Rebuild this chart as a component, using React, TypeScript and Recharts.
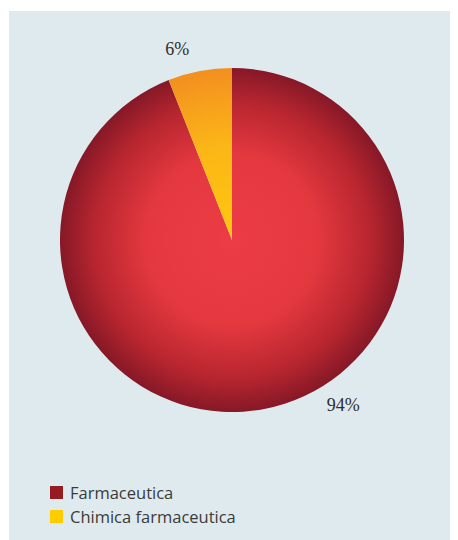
import { PieChart, Pie, Cell, Legend } from 'recharts';

const categories = ['Farmaceutica', 'Chimica farmaceutica'];
const shares = [94, 6];
const valueLabels = ['94%', '6%'];

const legendColors = ['#951c22', '#ffcc00'];
const sliceFills = ['url(#gradFarma)', 'url(#gradChimica)'];
// where each percentage sits around the pie (degrees, recharts convention)
const labelAngles = [-56, 106];

const data = categories.map((name, i) => ({ name, value: shares[i], label: valueLabels[i] }));

const CX = 223;
const CY = 229;
const R = 172;

const RADIAN = Math.PI / 180;

function renderLabel(props: any) {
  const { cx, cy, outerRadius, index } = props;
  const a = labelAngles[index];
  const r = outerRadius + 27;
  const x = cx + r * Math.cos(-a * RADIAN);
  const y = cy + r * Math.sin(-a * RADIAN);
  return (
    <text
      x={x}
      y={y}
      textAnchor="middle"
      dominantBaseline="central"
      fill="#2e2e2e"
      fontFamily="'Liberation Serif', serif"
      fontSize={18}
    >
      {data[index].label}
    </text>
  );
}

function renderLegend() {
  return (
    <div style={{ fontFamily: "'Open Sans', sans-serif", fontSize: 16.5, color: '#3a3a3a' }}>
      {categories.map((c, i) => (
        <div key={c} style={{ display: 'flex', alignItems: 'center', height: 24 }}>
          <span
            style={{
              display: 'inline-block',
              width: 13,
              height: 13,
              background: legendColors[i],
              marginRight: 7,
            }}
          />
          <span>{c}</span>
        </div>
      ))}
    </div>
  );
}

export default function App() {
  return (
    <div style={{ marginLeft: 1, marginTop: 3, width: 449, height: 529, background: '#dfeaee' }}>
      <PieChart width={449} height={529} margin={{ top: 0, right: 0, bottom: 0, left: 0 }}>
        <defs>
          <radialGradient id="gradFarma" gradientUnits="userSpaceOnUse" cx={CX} cy={CY} r={R}>
            <stop offset="0%" stopColor="#ec3c45" />
            <stop offset="50%" stopColor="#e4383f" />
            <stop offset="80%" stopColor="#b8262f" />
            <stop offset="100%" stopColor="#861827" />
          </radialGradient>
          <radialGradient id="gradChimica" gradientUnits="userSpaceOnUse" cx={CX} cy={CY} r={R}>
            <stop offset="0%" stopColor="#ffc80e" />
            <stop offset="55%" stopColor="#fbb617" />
            <stop offset="100%" stopColor="#f38f20" />
          </radialGradient>
        </defs>
        <Pie
          data={data}
          dataKey="value"
          nameKey="name"
          cx={CX}
          cy={CY}
          outerRadius={R}
          startAngle={90}
          endAngle={-270}
          stroke="none"
          label={renderLabel}
          labelLine={false}
          isAnimationActive={false}
        >
          {data.map((d, i) => (
            <Cell key={d.name} fill={sliceFills[i]} />
          ))}
        </Pie>
        <Legend
          content={renderLegend}
          wrapperStyle={{ left: 41, top: 469, width: 300 }}
        />
      </PieChart>
    </div>
  );
}
